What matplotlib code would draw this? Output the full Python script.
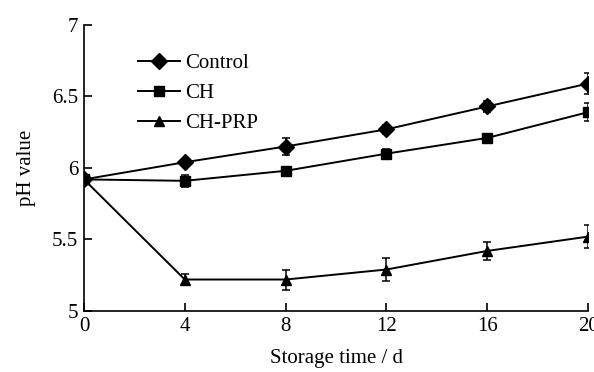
import matplotlib.pyplot as plt
from matplotlib.lines import Line2D

# storage time (d) and pH values
days = [0, 4, 8, 12, 16, 20]
control = [5.92, 6.04, 6.15, 6.27, 6.43, 6.59]
control_err = [0.03, 0.025, 0.06, 0.03, 0.04, 0.075]
ch = [5.92, 5.91, 5.98, 6.10, 6.21, 6.39]
ch_err = [0.03, 0.04, 0.03, 0.03, 0.03, 0.065]
ch_prp = [5.92, 5.22, 5.22, 5.29, 5.42, 5.52]
ch_prp_err = [0.03, 0.04, 0.07, 0.08, 0.065, 0.08]

plt.rcParams['font.family'] = ['Liberation Serif', 'DejaVu Serif']

fig = plt.figure(figsize=(5.94, 3.72), dpi=100)
ax = fig.add_axes([0.1414, 0.164, 0.8486, 0.769])

kw = dict(color='black', lw=1.4, elinewidth=1.1, capsize=3, capthick=1.1)
series = [(control, control_err, 'D', 8, 'Control'),
          (ch, ch_err, 's', 7, 'CH'),
          (ch_prp, ch_prp_err, '^', 7.5, 'CH-PRP')]
handles = []
for y, e, m, ms, name in series:
    ax.errorbar(days, y, yerr=e, marker=m, ms=ms, **kw)
    handles.append(Line2D([], [], color='black', lw=1.4, marker=m, ms=ms, label=name))

ax.set_xlim(0, 20)
ax.set_ylim(5, 7)
ax.set_xticks(days)
ax.set_yticks([5, 5.5, 6, 6.5, 7])
ax.set_yticklabels(['5', '5.5', '6', '6.5', '7'])
ax.spines['top'].set_visible(False)
ax.spines['right'].set_visible(False)
for s in ['left', 'bottom']:
    ax.spines[s].set_linewidth(1.2)
ax.tick_params(direction='in', length=6, width=1.2, labelsize=15, pad=4)

ax.set_xlabel('Storage time / d', fontsize=15, labelpad=10)
ax.set_ylabel('pH value', fontsize=15, labelpad=12)

ax.legend(handles=handles, loc='upper left', bbox_to_anchor=(0.07, 0.965), frameon=False,
          fontsize=15, handlelength=2.0, handletextpad=0.25, labelspacing=0.5)

fig.savefig('out.png', dpi=100)
